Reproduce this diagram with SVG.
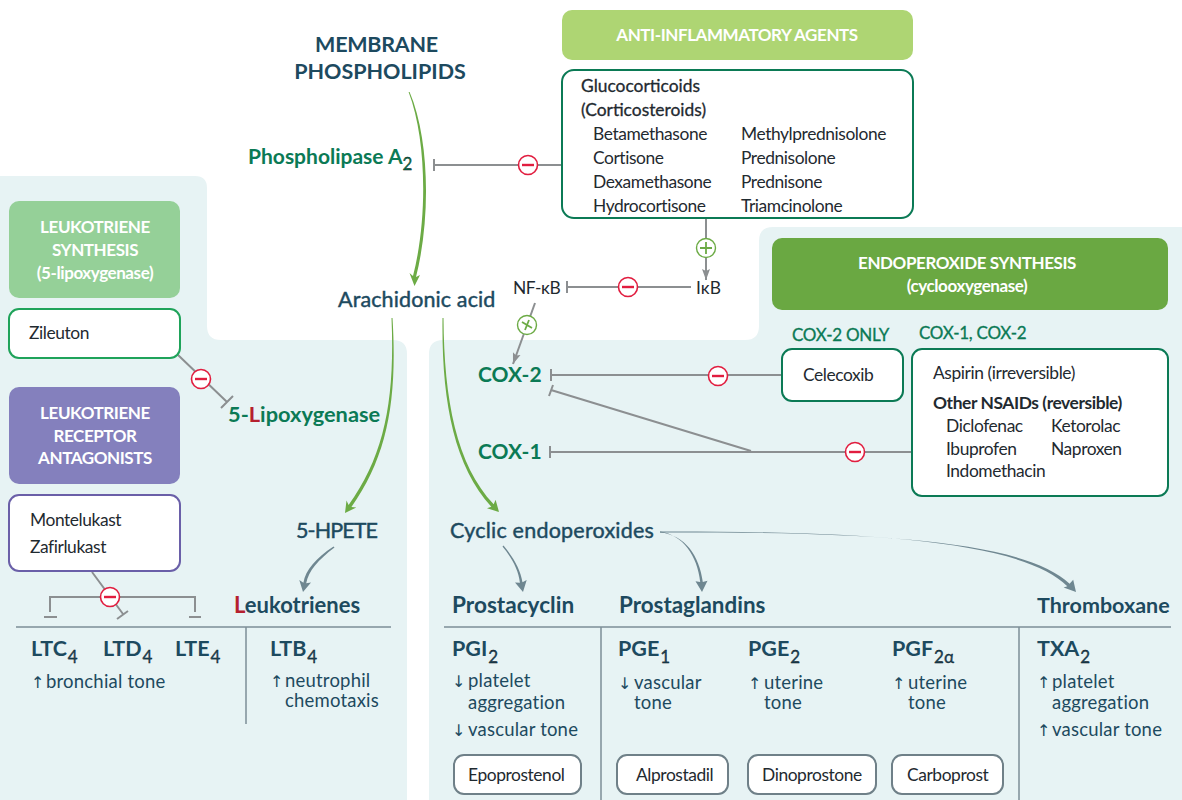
<svg xmlns="http://www.w3.org/2000/svg" width="1182" height="800" viewBox="0 0 1182 800">
<style>
text{font-family:"Lato","Noto Sans","Liberation Sans",sans-serif;}
.d{font-size:17.4px;letter-spacing:-.42px;fill:#1f2a30}
.dm{stroke:#1f2a30;stroke-width:.3px}
.h{font-size:21.5px;fill:#1d4a5f;stroke:#1d4a5f;stroke-width:.45px}
.hb{font-size:21.5px;font-weight:700;fill:#1d4a5f}
.g{font-size:21px;font-weight:700;fill:#0b7a55}
.t{font-size:18.5px;letter-spacing:.2px;fill:#1d4a5f}
.ar{font-size:16px;letter-spacing:0;font-family:"DejaVu Sans",sans-serif}
.w{font-size:17px;font-weight:700;fill:#fff;text-anchor:middle;letter-spacing:-.42px}
.s{font-size:17px;font-weight:400;stroke-width:.3px;stroke:currentColor}
.c{fill:none;stroke:#8c8f91;stroke-width:2}
.fg{fill:#6cab45}
.fb{fill:#6f8791}
.ax{fill:none;stroke:#7e8f97;stroke-width:1.5}
.box{fill:#fff;stroke-width:2}
.lab{font-size:17px;letter-spacing:-.25px;fill:#0b7a55;stroke:#0b7a55;stroke-width:.3px}
.minus circle{fill:#fff;stroke:#e11d3f;stroke-width:1.6}
.minus path{stroke:#e11d3f;stroke-width:2.4;fill:none}
.plus circle{fill:#fff;stroke:#6cab45;stroke-width:1.4}
.plus path{stroke:#6cab45;stroke-width:1.8;fill:none}
</style>
<defs>
<marker id="ac" markerWidth="12" markerHeight="12" viewBox="0 0 12 12" refX="11" refY="6" orient="auto" markerUnits="userSpaceOnUse"><path d="M0 2 L11 6 L0 10 L2 6Z" fill="#8c8f91"/></marker>
</defs>
<g id="panels">
<path d="M0 176H195Q207 176 207 188V326Q207 340 221 340H393Q407 340 407 354V800H0Z" fill="#e7f3f4"/>
<path d="M429 800V354Q429 340 443 340H745Q759 340 759 326V241Q759 227 773 227H1182V800Z" fill="#e7f3f4"/>
</g>
<g id="connectors">
<path class="fg" d="M408.6 92C427 140 427.5 220 413 276L409.5 273L414.5 286L420 275L416 277C430.5 220 430 140 409.6 92Z"/>
<path class="fg" d="M391.5 318C395 400 384.5 455 348.6 505L346.5 500.5L345 513L356.3 507.5L351.4 507C387.5 456 397.5 400 392.5 318Z"/>
<path class="fg" d="M442.5 318C441.5 400 453.5 465 491.3 506.7L487 508.2L499 512L495.6 499.8L493.7 504.3C456.5 465 444 400 443.5 318Z"/>
<path class="c" d="M434 165H562M434 159V171"/>
<path class="c" d="M706 218V280" marker-end="url(#ac)"/>
<path class="c" d="M567 287H691M567 281V293"/>
<path class="c" d="M535 303L513 364" marker-end="url(#ac)"/>
<path class="c" d="M551 375H781M551 369V381"/>
<path class="c" d="M550 452H912M550 446V458"/>
<path class="c" d="M551 390L751 451M553 385L549 396"/>
<path class="c" d="M177 354L227 402M221 408L233 396"/>
<path class="c" d="M92 572L123 614M117 619L128 611"/>
<path class="c" d="M50 612V597H195V612M44 617H57M189 617H201"/>
<path class="fb" d="M333.5 546.5C316 558 305.5 570 303.4 582.7L299.3 580L303 592L311 582.4L306.2 583.3C308.5 571 318 560 334.5 547.5Z"/>
<path class="fb" d="M502.5 546.5C512 558 518.5 570 519.9 582.7L515 582.4L523 592L526.7 580L522.5 582.3C520.5 570 514 558 503.5 545.5Z"/>
<path class="fb" d="M660 531.6C683 535 697.5 556 700.2 582L695.5 581.3L702 592L707.5 580.7L702.8 582C699.5 556 685 534.5 660 532.4Z"/>
<path class="fb" d="M660 531.6C850 531.2 1020 538.5 1067.3 586.2L1063.6 587.5L1076 592L1073.2 579.8L1069.6 583.8C1021 537 850 532.2 660 532.4Z"/>
<path class="ax" d="M16 627H391M246 627V724M444 627H1171M601 627V800M1019 627V800"/>
</g>
<g id="minus-markers">
<g class="minus"><circle cx="528" cy="165" r="9.5"/><path d="M522 165H534"/></g>
<g class="minus"><circle cx="628" cy="287" r="9.5"/><path d="M622 287H634"/></g>
<g class="minus"><circle cx="718" cy="376" r="9.5"/><path d="M712 376H724"/></g>
<g class="minus"><circle cx="855" cy="452" r="9.5"/><path d="M849 452H861"/></g>
<g class="minus"><circle cx="201" cy="379" r="9.5"/><path d="M195 379H207"/></g>
<g class="minus"><circle cx="110" cy="597" r="9.5"/><path d="M104 597H116"/></g>
</g>
<g id="plus-markers">
<g class="plus"><circle cx="706" cy="248" r="9.5"/><path d="M700 248H712M706 242V254"/></g>
<g class="plus"><circle cx="527" cy="325" r="9.5"/><path d="M522 322L532 328M529 320L525 330"/></g>
</g>
<g id="title"><text class="hb" text-anchor="middle" x="376.5" y="52" style="letter-spacing:-.25px">MEMBRANE</text><text class="hb" text-anchor="middle" x="380" y="79">PHOSPHOLIPIDS</text></g>
<g id="anti"><rect x="562" y="10" width="351" height="50" rx="10" fill="#aed573"/><text class="w" x="737" y="41">ANTI-INFLAMMATORY AGENTS</text></g>
<g id="gluco"><rect class="box" x="562" y="70" width="351" height="148" rx="12" stroke="#0b7a55"/>
<text class="d dm" x="581" y="92" style="letter-spacing:0">Glucocorticoids</text><text class="d dm" x="581" y="116" style="letter-spacing:0">(Corticosteroids)</text>
<text class="d" x="593" y="140">Betamethasone</text><text class="d" x="593" y="164">Cortisone</text><text class="d" x="593" y="188">Dexamethasone</text><text class="d" x="593" y="212">Hydrocortisone</text>
<text class="d" x="741" y="140">Methylprednisolone</text><text class="d" x="741" y="164">Prednisolone</text><text class="d" x="741" y="188">Prednisone</text><text class="d" x="741" y="212">Triamcinolone</text></g>
<g id="pla2"><text class="g" x="248" y="164">Phospholipase A<tspan class="s" dy="6">2</tspan></text></g>
<g id="ikb"><text class="d" x="696" y="294" style="letter-spacing:0">IκB</text></g>
<g id="nfkb"><text class="d" x="513" y="294">NF-κB</text></g>
<g id="aa"><text class="h" x="338" y="307" style="letter-spacing:.12px">Arachidonic acid</text></g>
<g id="lts"><rect x="9" y="201" width="171" height="97" rx="10" fill="#95d098"/><text class="w" x="95" y="233">LEUKOTRIENE</text><text class="w" x="95" y="256">SYNTHESIS</text><text class="w" x="95" y="279">(5-lipoxygenase)</text></g>
<g id="zil"><rect class="box" x="9" y="309" width="171" height="49" rx="10" stroke="#1fa35a"/><text class="d" x="29" y="339">Zileuton</text></g>
<g id="lox"><text class="g" x="228" y="422" style="font-size:21.8px">5-<tspan fill="#b5202e">L</tspan>ipoxygenase</text></g>
<g id="lra"><rect x="9" y="387" width="171" height="97" rx="10" fill="#8480bd"/><text class="w" x="95" y="419">LEUKOTRIENE</text><text class="w" x="95" y="442">RECEPTOR</text><text class="w" x="95" y="464">ANTAGONISTS</text></g>
<g id="mon"><rect class="box" x="9" y="495" width="171" height="76" rx="10" stroke="#6a5fa8"/><text class="d" x="30" y="526">Montelukast</text><text class="d" x="30" y="553">Zafirlukast</text></g>
<g id="hpete"><text class="h" x="296" y="538" style="letter-spacing:-.9px">5-HPETE</text></g>
<g id="lt"><text class="hb" x="234" y="613" style="font-size:22px"><tspan fill="#b5202e">L</tspan>eukotrienes</text></g>
<g id="lt-c"><text class="hb" x="31" y="656">LTC<tspan class="s" dy="7" dx="1">4</tspan></text><text class="hb" x="103" y="656">LTD<tspan class="s" dy="7" dx="1">4</tspan></text><text class="hb" x="175" y="656">LTE<tspan class="s" dy="7" dx="1">4</tspan></text><text class="t" x="31" y="688"><tspan class="ar">↑</tspan><tspan x="46">bronchial tone</tspan></text></g>
<g id="ltb"><text class="hb" x="270" y="656">LTB<tspan class="s" dy="7" dx="1">4</tspan></text><text class="t" x="270" y="687"><tspan class="ar">↑</tspan><tspan x="285">neutrophil</tspan></text><text class="t" x="285" y="707">chemotaxis</text></g>
<g id="cox2"><text class="g" x="478" y="382">COX-2</text></g>
<g id="cox1"><text class="g" x="478" y="459">COX-1</text></g>
<g id="endo"><rect x="772" y="238" width="396" height="72" rx="10" fill="#6aa842"/><text class="w" x="967" y="269">ENDOPEROXIDE SYNTHESIS</text><text class="w" x="967" y="292">(cyclooxygenase)</text></g>
<g id="labels"><text class="lab" x="792" y="341">COX-2 ONLY</text><text class="lab" x="919" y="339">COX-1, COX-2</text></g>
<g id="cele"><rect class="box" x="782" y="349" width="121" height="52" rx="10" stroke="#0b7a55"/><text class="d" x="803" y="381">Celecoxib</text></g>
<g id="nsaid"><rect class="box" x="912" y="349" width="256" height="147" rx="10" stroke="#0b7a55"/><text class="d" x="933" y="379">Aspirin (irreversible)</text><text class="d" x="933" y="409" font-weight="700">Other NSAIDs (reversible)</text>
<text class="d" x="946" y="432">Diclofenac</text><text class="d" x="946" y="455">Ibuprofen</text><text class="d" x="946" y="477">Indomethacin</text><text class="d" x="1051" y="432">Ketorolac</text><text class="d" x="1051" y="455">Naproxen</text></g>
<g id="cyc"><text class="h" x="450" y="538" style="letter-spacing:.22px">Cyclic endoperoxides</text></g>
<g id="pgi"><text class="hb" x="452" y="613" style="font-size:22.6px">Prostacyclin</text><text class="hb" x="452" y="656">PGI<tspan class="s" dy="7" dx="1">2</tspan></text><text class="t" x="452" y="687"><tspan class="ar">↓</tspan><tspan x="468">platelet</tspan></text><text class="t" x="468" y="709">aggregation</text><text class="t" x="452" y="736"><tspan class="ar">↓</tspan><tspan x="468">vascular tone</tspan></text></g>
<g id="pg"><text class="hb" x="619" y="613" style="font-size:22.4px">Prostaglandins</text></g>
<g id="pge1"><text class="hb" x="618" y="656">PGE<tspan class="s" dy="7" dx="1">1</tspan></text><text class="t" x="618" y="689"><tspan class="ar">↓</tspan><tspan x="634">vascular</tspan></text><text class="t" x="634" y="709">tone</text></g>
<g id="pge2"><text class="hb" x="748" y="656">PGE<tspan class="s" dy="7" dx="1">2</tspan></text><text class="t" x="748" y="689"><tspan class="ar">↑</tspan><tspan x="764">uterine</tspan></text><text class="t" x="764" y="709">tone</text></g>
<g id="pgf"><text class="hb" x="892" y="656">PGF<tspan class="s" dy="7" dx="1">2α</tspan></text><text class="t" x="892" y="689"><tspan class="ar">↑</tspan><tspan x="908">uterine</tspan></text><text class="t" x="908" y="709">tone</text></g>
<g id="txa"><text class="hb" x="1037" y="613">Thromboxane</text><text class="hb" x="1037" y="656">TXA<tspan class="s" dy="7" dx="1">2</tspan></text><text class="t" x="1037" y="688"><tspan class="ar">↑</tspan><tspan x="1052">platelet</tspan></text><text class="t" x="1052" y="709">aggregation</text><text class="t" x="1037" y="736"><tspan class="ar">↑</tspan><tspan x="1052">vascular tone</tspan></text></g>
<g id="epo"><rect class="box" x="454" y="755" width="127" height="39" rx="10" stroke="#6f8088"/><text class="d" x="468" y="781">Epoprostenol</text></g>
<g id="alp"><rect class="box" x="617" y="755" width="111" height="39" rx="10" stroke="#6f8088"/><text class="d" x="636" y="781">Alprostadil</text></g>
<g id="din"><rect class="box" x="748" y="755" width="128" height="39" rx="10" stroke="#6f8088"/><text class="d" x="762" y="781">Dinoprostone</text></g>
<g id="car"><rect class="box" x="892" y="755" width="111" height="39" rx="10" stroke="#6f8088"/><text class="d" x="907" y="781">Carboprost</text></g>
</svg>
